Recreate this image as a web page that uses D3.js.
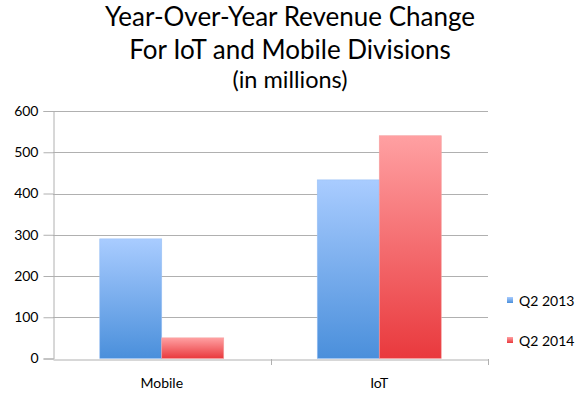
<!DOCTYPE html>
<html>
<head>
<meta charset="utf-8">
<script src="https://cdn.jsdelivr.net/npm/d3@7"></script>
<style>
  body { margin: 0; background: #fff; }
  svg { display: block; font-family: Lato, "Open Sans", sans-serif; }
</style>
</head>
<body>
<svg id="chart" width="580" height="398"></svg>
<script>
const categories = ["Mobile", "IoT"];
const seriesNames = ["Q2 2013", "Q2 2014"];
const q2_2013 = [290, 433];
const q2_2014 = [50, 540];
const yTicks = [0, 100, 200, 300, 400, 500, 600];
const titleLines = ["Year-Over-Year Revenue Change", "For IoT and Mobile Divisions", "(in millions)"];

const svg = d3.select("#chart");
const margin = {left: 53, right: 92, top: 111, bottom: 40};
const W = 580, H = 398;

const x = d3.scaleBand()
    .domain(categories)
    .range([margin.left, W - margin.right]);
const xInner = d3.scaleBand()
    .domain(seriesNames)
    .range([0, 124]);
const y = d3.scaleLinear()
    .domain([0, 600])
    .range([H - margin.bottom + 0.5, margin.top]);

// gradients
const defs = svg.append("defs");
const grads = [
    {id: "gBlue", top: "#a9ccff", bottom: "#4a8fdb"},
    {id: "gRed", top: "#ffa0a2", bottom: "#e9393d"}
];
grads.forEach(g => {
    let lg = defs.append("linearGradient")
        .attr("id", g.id)
        .attr("x1", 0).attr("y1", 0).attr("x2", 0).attr("y2", 1);
    lg.append("stop").attr("offset", "0%").attr("stop-color", g.top);
    lg.append("stop").attr("offset", "100%").attr("stop-color", g.bottom);
});
const fills = {"Q2 2013": "url(#gBlue)", "Q2 2014": "url(#gRed)"};
const edge = {"Q2 2013": "#9cc2f5", "Q2 2014": "#f5a0a0"};

// gridlines + y axis
svg.append("g")
    .attr("transform", `translate(${margin.left + 0.5},0)`)
    .call(d3.axisLeft(y).tickValues(yTicks).tickSize(10).tickPadding(5))
    .call(g => g.select(".domain").attr("stroke", "#b0b0b0"))
    .call(g => g.selectAll(".tick line").attr("stroke", "#b0b0b0"))
    .call(g => g.selectAll(".tick text")
        .attr("font-size", 14).attr("fill", "#000")
        .attr("font-family", "Lato, sans-serif"));

svg.append("g")
    .selectAll("line")
    .data(yTicks.filter(d => d > 0))
    .enter()
    .append("line")
    .attr("x1", margin.left)
    .attr("x2", W - margin.right)
    .attr("y1", d => Math.round(y(d)) + 0.5)
    .attr("y2", d => Math.round(y(d)) + 0.5)
    .attr("stroke", "#b0b0b0");

// bars
const rows = categories.map((c, i) => ({cat: c, vals: [q2_2013[i], q2_2014[i]]}));
const groups = svg.append("g")
    .selectAll("g")
    .data(rows)
    .enter()
    .append("g")
    .attr("transform", d => `translate(${x(d.cat) + (x.bandwidth() - 124) / 2},0)`);

groups.selectAll("rect")
    .data(d => d.vals.map((v, i) => ({s: seriesNames[i], v: v})))
    .enter()
    .append("rect")
    .attr("x", d => xInner(d.s))
    .attr("width", xInner.bandwidth())
    .attr("y", d => y(d.v))
    .attr("height", d => y(0) - y(d.v))
    .attr("fill", d => fills[d.s])
    .attr("stroke", d => edge[d.s])
    .attr("stroke-width", 0.6);

// x axis
svg.append("g")
    .attr("transform", `translate(0,${Math.round(y(0)) + 0.5})`)
    .call(d3.axisBottom(x).tickSize(0).tickPadding(19))
    .call(g => g.select(".domain").attr("stroke", "#b0b0b0"))
    .call(g => g.selectAll(".tick text")
        .attr("font-size", 14).attr("fill", "#000")
        .attr("font-family", "Lato, sans-serif"));

// x category separators
svg.append("g")
    .selectAll("line")
    .data(categories.map(c => x(c)).concat([x(categories[categories.length - 1]) + x.bandwidth()]).slice(1))
    .enter()
    .append("line")
    .attr("x1", d => Math.round(d) + 0.5)
    .attr("x2", d => Math.round(d) + 0.5)
    .attr("y1", Math.round(y(0)))
    .attr("y2", Math.round(y(0)) + 6)
    .attr("stroke", "#b0b0b0");

// title
svg.append("g")
    .selectAll("text")
    .data(titleLines)
    .enter()
    .append("text")
    .attr("x", 290)
    .attr("y", (d, i) => [26, 59, 88][i])
    .attr("text-anchor", "middle")
    .attr("font-size", (d, i) => i < 2 ? 26 : 23.5)
    .attr("fill", "#000")
    .text(d => d);

// legend
const legend = svg.append("g")
    .selectAll("g")
    .data(seriesNames)
    .enter()
    .append("g")
    .attr("transform", (d, i) => `translate(507,${297 + i * 40})`);
legend.append("rect")
    .attr("width", 6).attr("height", 6)
    .attr("fill", d => fills[d]);
legend.append("text")
    .attr("x", 12)
    .attr("y", 9)
    .attr("font-size", 14)
    .attr("fill", "#000")
    .text(d => d);
</script>
</body>
</html>
